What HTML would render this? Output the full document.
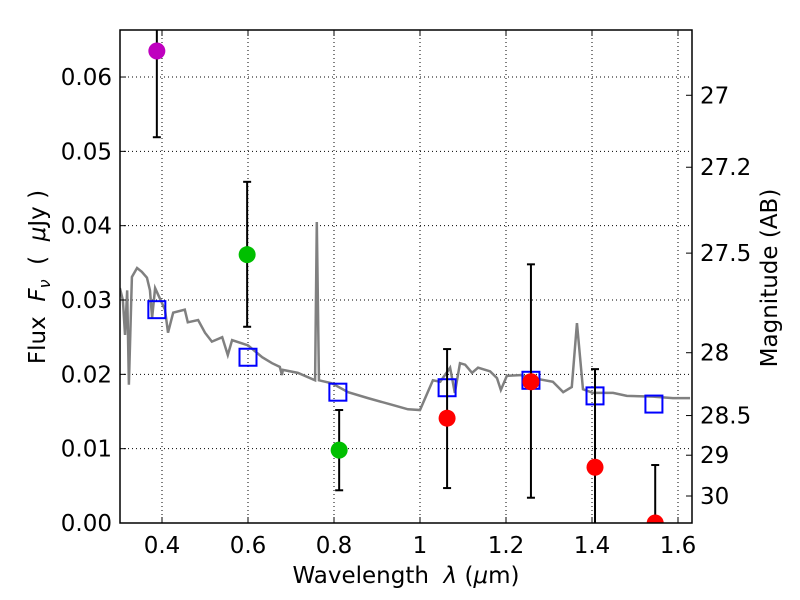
<!DOCTYPE html>
<html><head><meta charset="utf-8"><style>
body{margin:0;background:#fff}
text{font-family:"DejaVu Sans","Liberation Sans",sans-serif;font-size:23px;fill:#000;white-space:pre}
</style></head><body>
<svg id="c" width="800" height="600" xmlns="http://www.w3.org/2000/svg" style="position:absolute;left:0;top:0"></svg>
<script>
const xTicks=[0.4,0.6,0.8,1.0,1.2,1.4,1.6];
const xTickLabels=["0.4","0.6","0.8","1","1.2","1.4","1.6"];
const yTicks=[0,0.01,0.02,0.03,0.04,0.05,0.06];
const yTickLabels=["0.00","0.01","0.02","0.03","0.04","0.05","0.06"];
const magTicks=[27,27.2,27.5,28,28.5,29,30];
const magTickLabels=["27","27.2","27.5","28","28.5","29","30"];
const specWave=[.302,.309,.314,.319,.323,.330,.342,.353,.365,.372,.377,.384,.407,.414,.426,.453,.460,.484,.500,.516,.540,.553,.563,.600,.633,.656,.674,.679,.681,.716,.756,.760,.765,.795,.833,.879,.935,.972,1.0,1.030,1.047,1.070,1.081,1.093,1.105,1.121,1.135,1.163,1.179,1.188,1.202,1.233,1.263,1.309,1.333,1.353,1.365,1.379,1.402,1.449,1.481,1.542,1.588,1.628];
const specFlux=[.0316,.0300,.0253,.0313,.0186,.0331,.0343,.0338,.0330,.0313,.0276,.0316,.0287,.0256,.0283,.0287,.0270,.0273,.0256,.0244,.0250,.0226,.0246,.0239,.0223,.0215,.0210,.0199,.0206,.0202,.0192,.0405,.0192,.0188,.0176,.0168,.0159,.0153,.0152,.0192,.0190,.0209,.0175,.0215,.0213,.0202,.0209,.0204,.0195,.0179,.0198,.0199,.0195,.0190,.0176,.0183,.0269,.0180,.0175,.0175,.0171,.0170,.0168,.0168];
const modelWave=[.388,.600,.809,1.063,1.258,1.407,1.544];
const modelFlux=[.0287,.0223,.0176,.0182,.0192,.0171,.0160];
const obsWave=[.388,.598,.812,1.063,1.258,1.407,1.547];
const obsFlux=[.0635,.0361,.0098,.0141,.0190,.0075,0.0];
const obsErrHi=[.0700,.0459,.0152,.0234,.0348,.0207,.0078];
const obsErrLo=[.0519,.0264,.0044,.0047,.0034,-.005,-.008];
const obsColor=["#bf00bf","#00bf00","#00bf00","#ff0000","#ff0000","#ff0000","#ff0000"];

const L=120,R=692,T=30,B=523;
const X=v=>420+(v-1.0)*430;
const Y=v=>B-v*7433;
const M=m=>Y(Math.pow(10,(23.9-m)/2.5));
const svg=document.getElementById('c');
const NS='http://www.w3.org/2000/svg';
function mk(tag,attrs,parent){const e=document.createElementNS(NS,tag);for(const k in attrs)e.setAttribute(k,attrs[k]);(parent||svg).appendChild(e);return e;}
const defs=mk('defs',{});const cp=mk('clipPath',{id:'pc'},defs);mk('rect',{x:L,y:T,width:R-L,height:B-T},cp);
const grid=mk('g',{});


xTicks.forEach(v=>mk('line',{x1:X(v),x2:X(v),y1:T,y2:B,stroke:'#000','stroke-width':1,'stroke-dasharray':'1,3'},grid));
yTicks.forEach(v=>mk('line',{x1:L,x2:R,y1:Y(v),y2:Y(v),stroke:'#000','stroke-width':1,'stroke-dasharray':'1,3'},grid));
const plot=mk('g',{'clip-path':'url(#pc)'});
const sp=mk('polyline',{points:specWave.map((w,i)=>X(w)+','+Y(specFlux[i])).join(' '),fill:'none',stroke:'#808080','stroke-width':2.5},plot);


modelWave.forEach((w,i)=>{const r=mk('rect',{x:X(w)-8.5,y:Y(modelFlux[i])-8.5,width:17,height:17,fill:'none',stroke:'#0000ff','stroke-width':2},plot);

});
obsWave.forEach((w,i)=>{const g=mk('g',{},plot);


const x=X(w);
mk('line',{x1:x,x2:x,y1:Y(obsErrHi[i]),y2:Y(obsErrLo[i]),stroke:'#000','stroke-width':2},g);
mk('line',{x1:x-4,x2:x+4,y1:Y(obsErrHi[i]),y2:Y(obsErrHi[i]),stroke:'#000','stroke-width':2},g);
mk('line',{x1:x-4,x2:x+4,y1:Y(obsErrLo[i]),y2:Y(obsErrLo[i]),stroke:'#000','stroke-width':2},g);
mk('circle',{cx:x,cy:Y(obsFlux[i]),r:8.5,fill:obsColor[i]},g);});
const fr=mk('rect',{x:L,y:T,width:R-L,height:B-T,fill:'none',stroke:'#000','stroke-width':1.5});


xTicks.forEach((v,i)=>{mk('line',{x1:X(v),x2:X(v),y1:B,y2:B-6,stroke:'#000'});mk('line',{x1:X(v),x2:X(v),y1:T,y2:T+6,stroke:'#000'});
const t=mk('text',{x:X(v),y:B+30,'text-anchor':'middle'});t.textContent=xTickLabels[i];

});
yTicks.forEach((v,i)=>{mk('line',{x1:L,x2:L+6,y1:Y(v),y2:Y(v),stroke:'#000'});
const t=mk('text',{x:L-8,y:Y(v)+8,'text-anchor':'end'});t.textContent=yTickLabels[i];

});
magTicks.forEach((m,i)=>{mk('line',{x1:R,x2:R-6,y1:M(m),y2:M(m),stroke:'#000'});
const t=mk('text',{x:R+8,y:M(m)+8,'text-anchor':'start'});t.textContent=magTickLabels[i];

});
</script>
<svg width="800" height="600" xmlns="http://www.w3.org/2000/svg" style="position:absolute;left:0;top:0;pointer-events:none">
<text x="406" y="583" text-anchor="middle" style="font-size:23px">Wavelength  <tspan font-style="italic">λ</tspan> (<tspan font-style="italic">μ</tspan>m)</text>
<text transform="translate(45,277) rotate(-90)" text-anchor="middle" style="font-size:23px">Flux  <tspan font-style="italic">F</tspan><tspan font-style="italic" font-size="16" dy="5">ν</tspan><tspan dy="-5">  (  </tspan><tspan font-style="italic">μ</tspan>Jy )</text>
<text transform="translate(777,278) rotate(-90)" text-anchor="middle" style="font-size:23px">Magnitude (AB)</text>
</svg>
</body></html>
